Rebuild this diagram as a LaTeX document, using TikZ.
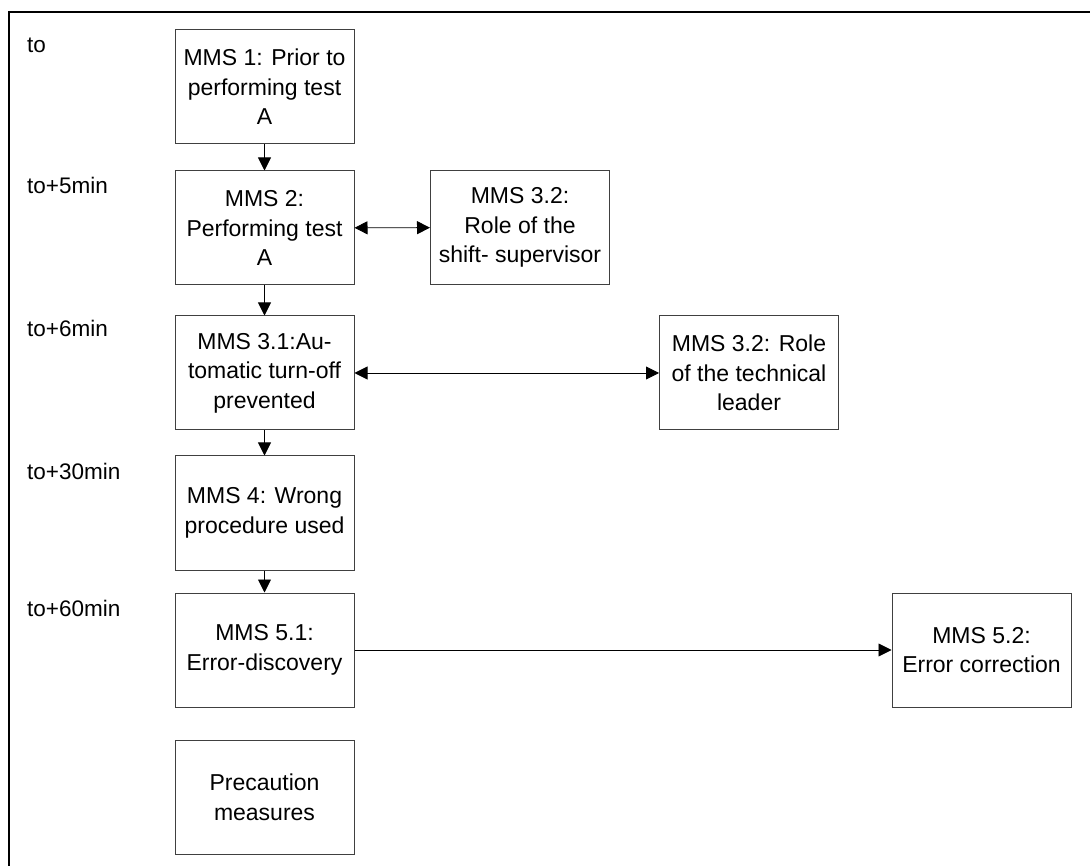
\documentclass[tikz,border=0pt]{standalone}
\usepackage{fontspec}
\setmainfont{Liberation Sans}
\usetikzlibrary{arrows.meta}
\begin{document}
\begin{tikzpicture}[x=1pt,y=-1pt,
  stagebox/.style={draw=black!75,line width=1pt,fill=white,minimum width=179pt,minimum height=114pt,
    inner sep=0pt,align=center,font=\fontsize{23}{29.5}\selectfont},
  timelabel/.style={anchor=base west,inner sep=0pt,font=\fontsize{22.5}{26}\selectfont},
  link/.style={line width=0.9pt,-{Triangle[length=13pt,width=13pt]}},
  duplex/.style={line width=0.9pt,{Triangle[length=13pt,width=13pt]}-{Triangle[length=13pt,width=13pt]}}]
  \useasboundingbox (0,0) rectangle (1090,866);
  % frame (top and left edges)
  \draw[line width=2.2pt] (8,12) -- (1090,12);
  \draw[line width=2.2pt] (9,11) -- (9,866);

  % time marks
  \node[timelabel] (t0)  at (27,53)  {to};
  \node[timelabel] (t5)  at (27,194) {to+5min};
  \node[timelabel] (t6)  at (27,337) {to+6min};
  \node[timelabel] (t30) at (27,479) {to+30min};
  \node[timelabel] (t60) at (27,616) {to+60min};

  % main sequence
  \node[stagebox] (m1)  at (264.5,87)    {MMS 1: Prior to\\performing test\\A};
  \node[stagebox] (m2)  at (264.5,228)   {MMS 2:\\Performing test\\A};
  \node[stagebox] (m31) at (264.5,373)   {MMS 3.1:Au-\\tomatic turn-off\\prevented};
  \node[stagebox] (m4)  at (264.5,513)   {MMS 4: Wrong\\procedure used};
  \node[stagebox] (m51) at (264.5,650)   {MMS 5.1:\\Error-discovery};
  \node[stagebox] (pm)  at (264.5,797.5) {Precaution\\measures};

  % side boxes
  \node[stagebox] (s32) at (520,227.5) {MMS 3.2:\\Role of the\\shift- supervisor};
  \node[stagebox] (t32) at (749,373)   {MMS 3.2: Role\\of the technical\\leader};
  \node[stagebox] (m52) at (981.5,650) {MMS 5.2:\\Error correction};

  % connectors
  \draw[link] (m1) -- (m2);
  \draw[link] (m2) -- (m31);
  \draw[link] (m31) -- (m4);
  \draw[link] (m4) -- (m51);
  \draw[duplex] (m2) -- (s32);
  \draw[duplex] (m31) -- (t32);
  \draw[link] (m51) -- (m52);
\end{tikzpicture}
\end{document}
